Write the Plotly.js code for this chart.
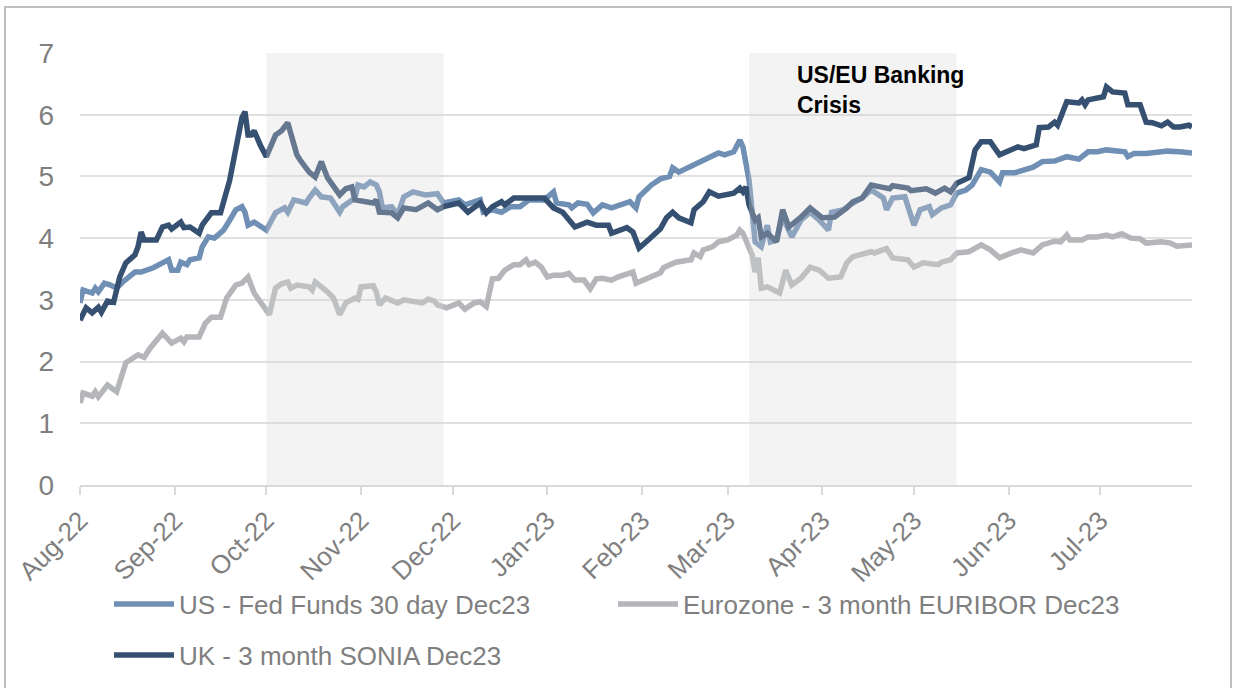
<!DOCTYPE html>
<html>
<head>
<meta charset="utf-8">
<script src="https://cdn.plot.ly/plotly-3.0.1.min.js"></script>
<style>
html,body{margin:0;padding:0;background:#fff;}
#chart{width:1237px;height:688px;}
</style>
</head>
<body>
<div id="chart"></div>
<script>
// ---- Data ----
const usDates = ['2022-08-01','2022-08-02','2022-08-05','2022-08-06','2022-08-07','2022-08-09','2022-08-11','2022-08-13','2022-08-15','2022-08-19','2022-08-21','2022-08-25','2022-08-28','2022-08-30','2022-08-31',
'2022-09-02','2022-09-03','2022-09-05','2022-09-06','2022-09-09','2022-09-10','2022-09-12','2022-09-14','2022-09-17','2022-09-19','2022-09-21','2022-09-23','2022-09-24','2022-09-25','2022-09-27',
'2022-10-01','2022-10-04','2022-10-07','2022-10-08','2022-10-10','2022-10-14','2022-10-15','2022-10-17','2022-10-19','2022-10-22','2022-10-25','2022-10-26','2022-10-30','2022-10-31',
'2022-11-02','2022-11-04','2022-11-06','2022-11-07','2022-11-08','2022-11-11','2022-11-13','2022-11-15','2022-11-18','2022-11-22','2022-11-26','2022-11-28',
'2022-12-03','2022-12-05','2022-12-10','2022-12-11','2022-12-14','2022-12-17','2022-12-20','2022-12-23','2022-12-26','2022-12-31',
'2023-01-03','2023-01-04','2023-01-08','2023-01-09','2023-01-11','2023-01-14','2023-01-16','2023-01-19','2023-01-22','2023-01-28','2023-01-30','2023-01-31',
'2023-02-04','2023-02-07','2023-02-10','2023-02-11','2023-02-13','2023-02-18','2023-02-21','2023-02-22','2023-02-26','2023-02-28',
'2023-03-03','2023-03-05','2023-03-06','2023-03-08','2023-03-10','2023-03-12','2023-03-14','2023-03-15','2023-03-17','2023-03-19','2023-03-22','2023-03-25','2023-03-28','2023-03-31',
'2023-04-03','2023-04-04','2023-04-08','2023-04-10','2023-04-14','2023-04-17','2023-04-21','2023-04-22','2023-04-24','2023-04-28','2023-04-29',
'2023-05-01','2023-05-03','2023-05-06','2023-05-07','2023-05-10','2023-05-13','2023-05-15','2023-05-18','2023-05-20','2023-05-23','2023-05-26','2023-05-29','2023-05-30',
'2023-06-03','2023-06-06','2023-06-09','2023-06-12','2023-06-16','2023-06-20','2023-06-24','2023-06-27','2023-06-30',
'2023-07-03','2023-07-09','2023-07-10','2023-07-12','2023-07-16','2023-07-23','2023-07-27','2023-07-31'];
const usValues = [2.95,3.16,3.11,3.19,3.13,3.27,3.24,3.19,3.29,3.45,3.45,3.52,3.60,3.65,3.48,
3.48,3.61,3.57,3.65,3.68,3.86,4.02,4.00,4.13,4.29,4.46,4.51,4.42,4.21,4.26,
4.13,4.41,4.49,4.42,4.62,4.57,4.65,4.78,4.67,4.65,4.42,4.51,4.65,4.86,
4.83,4.91,4.86,4.75,4.49,4.51,4.38,4.67,4.75,4.70,4.72,4.57,
4.62,4.54,4.62,4.42,4.46,4.42,4.51,4.51,4.62,4.62,
4.75,4.57,4.54,4.49,4.57,4.55,4.41,4.54,4.49,4.59,4.49,4.67,
4.86,4.96,5.00,5.14,5.07,5.19,5.27,5.30,5.38,5.35,
5.40,5.59,5.48,4.94,3.94,3.86,4.21,3.94,3.97,4.34,4.02,4.29,4.42,4.29,
4.13,4.42,4.46,4.54,4.65,4.78,4.65,4.46,4.65,4.67,4.49,
4.21,4.46,4.51,4.38,4.49,4.54,4.73,4.78,4.86,5.11,5.07,4.91,5.06,
5.06,5.11,5.15,5.24,5.25,5.32,5.28,5.40,5.40,
5.43,5.40,5.32,5.37,5.37,5.41,5.40,5.38];

const euDates = ['2022-08-01','2022-08-02','2022-08-05','2022-08-06','2022-08-07','2022-08-10','2022-08-13','2022-08-15','2022-08-16','2022-08-20','2022-08-22','2022-08-24','2022-08-28','2022-08-31',
'2022-09-03','2022-09-04','2022-09-05','2022-09-09','2022-09-11','2022-09-13','2022-09-16','2022-09-18','2022-09-21','2022-09-23','2022-09-25','2022-09-27',
'2022-10-02','2022-10-04','2022-10-06','2022-10-08','2022-10-09','2022-10-11','2022-10-15','2022-10-16','2022-10-17','2022-10-21','2022-10-23','2022-10-25','2022-10-27','2022-10-30','2022-10-31',
'2022-11-01','2022-11-05','2022-11-06','2022-11-07','2022-11-09','2022-11-11','2022-11-13','2022-11-15','2022-11-21','2022-11-23','2022-11-25','2022-11-26','2022-11-29',
'2022-12-03','2022-12-05','2022-12-08','2022-12-10','2022-12-12','2022-12-14','2022-12-16','2022-12-18','2022-12-21','2022-12-23','2022-12-25','2022-12-26','2022-12-28','2022-12-30',
'2023-01-01','2023-01-03','2023-01-06','2023-01-08','2023-01-10','2023-01-13','2023-01-15','2023-01-17','2023-01-19','2023-01-22','2023-01-24','2023-01-28','2023-01-29','2023-01-30',
'2023-02-03','2023-02-06','2023-02-07','2023-02-08','2023-02-10','2023-02-12','2023-02-17','2023-02-18','2023-02-20','2023-02-21','2023-02-24','2023-02-26',
'2023-03-01','2023-03-04','2023-03-05','2023-03-06','2023-03-09','2023-03-10','2023-03-11','2023-03-12','2023-03-14','2023-03-18','2023-03-20','2023-03-22','2023-03-25','2023-03-28','2023-03-31',
'2023-04-03','2023-04-07','2023-04-09','2023-04-11','2023-04-14','2023-04-17','2023-04-18','2023-04-22','2023-04-24','2023-04-29',
'2023-05-01','2023-05-04','2023-05-09','2023-05-10','2023-05-13','2023-05-15','2023-05-19','2023-05-23','2023-05-26','2023-05-29',
'2023-06-02','2023-06-05','2023-06-09','2023-06-12','2023-06-16','2023-06-18','2023-06-20','2023-06-21','2023-06-25','2023-06-27','2023-06-30',
'2023-07-03','2023-07-05','2023-07-08','2023-07-11','2023-07-14','2023-07-16','2023-07-21','2023-07-24','2023-07-26','2023-07-31'];
const euValues = [1.33,1.49,1.44,1.51,1.43,1.62,1.51,1.82,1.98,2.11,2.07,2.22,2.46,2.30,
2.38,2.32,2.40,2.40,2.62,2.72,2.72,3.03,3.24,3.27,3.37,3.11,
2.76,3.19,3.26,3.29,3.19,3.24,3.21,3.16,3.29,3.13,3.03,2.76,2.95,3.03,3.01,
3.21,3.23,3.13,2.92,3.03,3.00,2.95,3.00,2.95,3.01,2.98,2.92,2.87,
2.95,2.85,2.95,2.97,2.89,3.34,3.35,3.48,3.57,3.57,3.65,3.57,3.61,3.53,
3.37,3.40,3.40,3.43,3.32,3.32,3.18,3.34,3.35,3.32,3.37,3.43,3.45,3.27,
3.35,3.43,3.44,3.52,3.57,3.61,3.65,3.76,3.70,3.81,3.86,3.94,
3.97,4.05,4.13,4.08,3.73,3.45,3.68,3.19,3.21,3.11,3.48,3.24,3.35,3.53,3.48,
3.35,3.37,3.60,3.70,3.73,3.78,3.76,3.83,3.68,3.65,
3.53,3.60,3.57,3.61,3.65,3.76,3.78,3.89,3.81,3.68,
3.76,3.81,3.76,3.89,3.95,3.94,4.05,3.97,3.97,4.02,4.02,
4.05,4.02,4.07,4.00,3.99,3.92,3.94,3.92,3.87,3.89];

const ukDates = ['2022-08-01','2022-08-03','2022-08-05','2022-08-07','2022-08-08','2022-08-10','2022-08-12','2022-08-14','2022-08-16','2022-08-19','2022-08-20','2022-08-21','2022-08-22','2022-08-26','2022-08-28','2022-08-30','2022-08-31',
'2022-09-03','2022-09-04','2022-09-06','2022-09-09','2022-09-10','2022-09-13','2022-09-16','2022-09-19','2022-09-21','2022-09-23','2022-09-24','2022-09-25','2022-09-26','2022-09-27','2022-09-29',
'2022-10-01','2022-10-04','2022-10-06','2022-10-08','2022-10-10','2022-10-11','2022-10-12','2022-10-15','2022-10-17','2022-10-19','2022-10-21','2022-10-25','2022-10-27','2022-10-29','2022-10-30',
'2022-11-02','2022-11-05','2022-11-06','2022-11-07','2022-11-11','2022-11-13','2022-11-15','2022-11-19','2022-11-23','2022-11-26','2022-11-28',
'2022-12-03','2022-12-06','2022-12-10','2022-12-12','2022-12-14','2022-12-17','2022-12-18','2022-12-21','2022-12-26','2022-12-31',
'2023-01-03','2023-01-06','2023-01-10','2023-01-14','2023-01-17','2023-01-21','2023-01-22','2023-01-27','2023-01-29','2023-01-31',
'2023-02-03','2023-02-06','2023-02-07','2023-02-09','2023-02-11','2023-02-13','2023-02-17','2023-02-18','2023-02-21','2023-02-23','2023-02-26',
'2023-03-03','2023-03-05','2023-03-06','2023-03-07','2023-03-08','2023-03-10','2023-03-11','2023-03-12','2023-03-14','2023-03-17','2023-03-19','2023-03-21','2023-03-25','2023-03-28',
'2023-04-01','2023-04-05','2023-04-09','2023-04-11','2023-04-14','2023-04-17','2023-04-20','2023-04-23','2023-04-24','2023-04-29','2023-04-30',
'2023-05-05','2023-05-08','2023-05-11','2023-05-13','2023-05-15','2023-05-19','2023-05-21','2023-05-23','2023-05-26','2023-05-29',
'2023-06-02','2023-06-04','2023-06-06','2023-06-10','2023-06-11','2023-06-14','2023-06-16','2023-06-17','2023-06-20','2023-06-24','2023-06-25','2023-06-26','2023-06-27',
'2023-07-02','2023-07-03','2023-07-05','2023-07-09','2023-07-10','2023-07-14','2023-07-16','2023-07-18','2023-07-21','2023-07-23','2023-07-25','2023-07-27','2023-07-30','2023-07-31'];
const ukValues = [2.67,2.87,2.79,2.88,2.80,2.98,2.96,3.37,3.60,3.73,3.86,4.10,3.97,3.97,4.18,4.21,4.15,
4.26,4.17,4.18,4.08,4.21,4.41,4.41,4.94,5.48,5.95,6.05,5.67,5.67,5.74,5.51,
5.32,5.67,5.74,5.87,5.54,5.35,5.27,5.07,4.99,5.24,4.98,4.70,4.80,4.83,4.62,
4.59,4.57,4.62,4.42,4.41,4.33,4.49,4.46,4.57,4.46,4.51,
4.57,4.42,4.57,4.41,4.51,4.59,4.54,4.65,4.65,4.65,
4.49,4.42,4.18,4.26,4.21,4.21,4.08,4.17,4.10,3.84,
3.97,4.10,4.15,4.33,4.42,4.33,4.25,4.46,4.59,4.75,4.68,
4.73,4.81,4.75,4.83,4.54,4.29,4.33,4.02,4.08,3.94,4.46,4.18,4.34,4.49,
4.33,4.34,4.49,4.59,4.65,4.86,4.83,4.80,4.85,4.81,4.77,
4.80,4.73,4.81,4.75,4.89,4.98,5.43,5.56,5.56,5.35,
5.43,5.48,5.45,5.51,5.79,5.80,5.88,5.83,6.21,6.19,6.24,6.16,6.24,
6.29,6.45,6.37,6.35,6.16,6.16,5.88,5.87,5.82,5.88,5.80,5.80,5.83,5.80];

const seriesNames = ['US - Fed Funds 30 day Dec23','Eurozone - 3 month EURIBOR Dec23','UK - 3 month SONIA Dec23'];
const tickDates = ['2022-08-01','2022-09-01','2022-10-01','2022-11-01','2022-12-01','2023-01-01','2023-02-01','2023-03-01','2023-04-01','2023-05-01','2023-06-01','2023-07-01'];
const tickLabels = ['Aug-22','Sep-22','Oct-22','Nov-22','Dec-22','Jan-23','Feb-23','Mar-23','Apr-23','May-23','Jun-23','Jul-23'];
const shadeStart = ['2022-10-01','2023-03-08'];
const shadeEnd = ['2022-11-28','2023-05-15'];
const annotationText = 'US/EU Banking<br>Crisis';

// ---- Styling ----
const FONT = '"Liberation Sans", Arial, sans-serif';
const GREY_TXT = '#7f7f7f';
const colors = ['#6f8fb4', '#b4b6b9', '#355070'];

const traces = [
  {x: usDates, y: usValues, name: seriesNames[0], legend: 'legend'},
  {x: euDates, y: euValues, name: seriesNames[1], legend: 'legend3'},
  {x: ukDates, y: ukValues, name: seriesNames[2], legend: 'legend2'}
].map((t, i) => Object.assign(t, {
  type: 'scatter', mode: 'lines',
  line: {color: colors[i], width: 5.5, shape: 'linear'},
  hoverinfo: 'x+y+name'
}));

const L = 80, R = 45, T = 53, B = 203, W = 1237, H = 688;
const pw = W - L - R, ph = H - T - B;
const px2x = p => (p - L) / pw;
const px2y = p => (H - B - p) / ph;

const shapes = shadeStart.map((s, i) => ({
  type: 'rect', xref: 'x', yref: 'y', x0: s, x1: shadeEnd[i], y0: 0, y1: i === 0 ? 7 : 7.08,
  fillcolor: 'rgba(216,216,216,0.3)', line: {width: 0}, layer: 'above'
}));
shapes.push({
  type: 'rect', xref: 'paper', yref: 'paper',
  x0: px2x(5), x1: px2x(1231), y0: px2y(692), y1: px2y(7),
  line: {color: '#bfbfbf', width: 2}, fillcolor: 'rgba(0,0,0,0)', layer: 'below'
});

const legendCommon = {
  orientation: 'h', xanchor: 'left', yanchor: 'middle',
  font: {family: FONT, size: 26, color: GREY_TXT},
  bgcolor: 'rgba(0,0,0,0)', itemwidth: 60
};

const layout = {
  width: W, height: H,
  margin: {l: L, r: R, t: T, b: B, autoexpand: false},
  paper_bgcolor: '#ffffff', plot_bgcolor: '#ffffff',
  font: {family: FONT, color: GREY_TXT, size: 26},
  showlegend: true,
  xaxis: {
    type: 'date', range: ['2022-08-01', '2023-07-31'],
    tickmode: 'array', tickvals: tickDates, ticktext: tickLabels,
    tickangle: -45, tickfont: {family: FONT, size: 26, color: GREY_TXT},
    showgrid: false, zeroline: false,
    showline: true, linecolor: '#d9d9d9', linewidth: 2,
    ticks: 'outside', ticklen: 8, tickwidth: 2, tickcolor: '#d9d9d9'
  },
  yaxis: {
    range: [0, 7], tickmode: 'array', tickvals: [0,1,2,3,4,5,6,7],
    tickfont: {family: FONT, size: 28, color: GREY_TXT},
    showgrid: true, gridcolor: '#e0e0e0', gridwidth: 2,
    zeroline: false, showline: false, ticks: '', ticklabelstandoff: 25
  },
  legend: Object.assign({}, legendCommon, {x: px2x(109), y: px2y(604)}),
  legend3: Object.assign({}, legendCommon, {x: px2x(613), y: px2y(604)}),
  legend2: Object.assign({}, legendCommon, {x: px2x(109), y: px2y(655)}),
  shapes: shapes,
  annotations: [{
    text: annotationText, xref: 'x', yref: 'y', x: '2023-03-23', y: 6.89,
    xanchor: 'left', yanchor: 'top', align: 'left', showarrow: false,
    font: {family: FONT, size: 23, color: '#000000', weight: 'bold'}
  }]
};

Plotly.newPlot('chart', traces, layout, {displayModeBar: false, staticPlot: true});
</script>
</body>
</html>
